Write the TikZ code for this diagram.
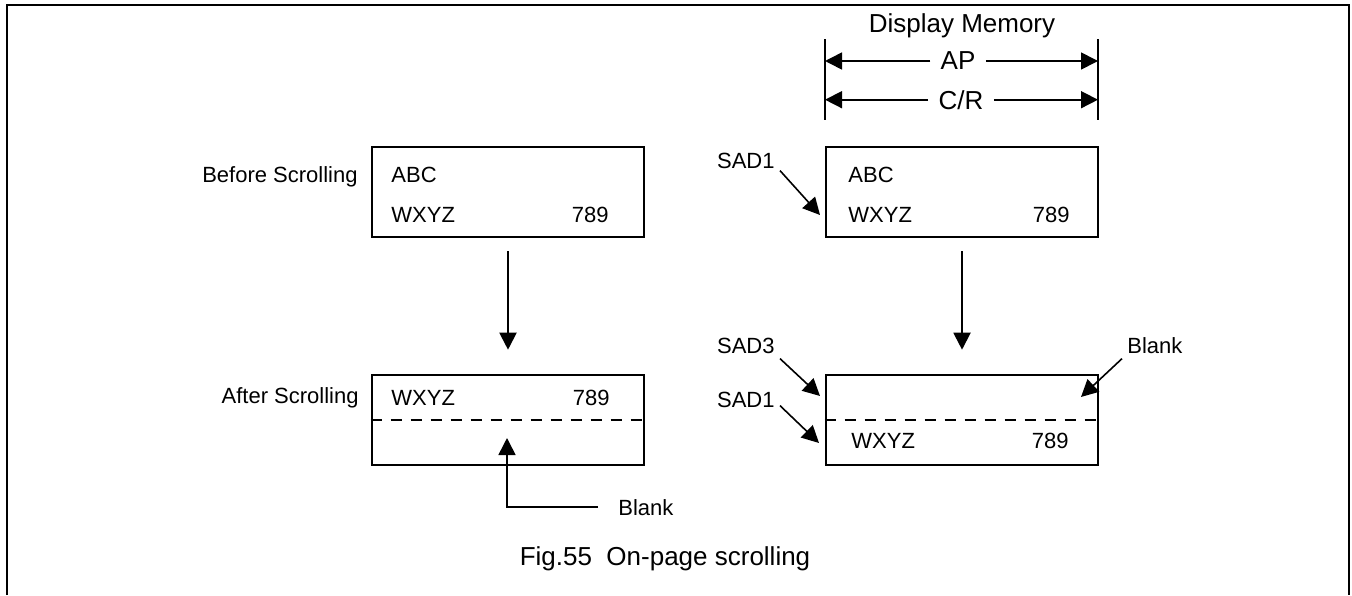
\documentclass[tikz,border=0pt]{standalone}
\usepackage{fontspec}
\setmainfont{Liberation Sans}
\usetikzlibrary{arrows.meta}

\begin{document}
\begin{tikzpicture}[x=0.5pt, y=-0.5pt,
                    every node/.style={inner sep=0pt, font=\fontsize{11}{13}\selectfont},
                    big/.style={font=\fontsize{13}{15}\selectfont},
                    membox/.style={draw, line width=1.3pt, minimum width=136pt, minimum height=45pt},
                    ptr/.style={-{Triangle[length=8.5pt,width=8.5pt]}, line width=0.8pt},
                    cut/.style={dashed, dash pattern=on 5.5pt off 4.5pt, line width=0.9pt}]
                    \useasboundingbox (0,0) rectangle (1352,595);
                    \draw[line width=1.4pt] (7,595) -- (7,5) -- (1349,5) -- (1349,595);
                    \node[anchor=base east] (bef) at (358,182) {Before Scrolling};
                    \node[membox] (lt) at (508,192) {};
                    \node[anchor=base west] (lta) at (391,182) {ABC};
                    \node[anchor=base west] (ltw) at (391,222) {WXYZ};
                    \node[anchor=base east] (ltn) at (609,222) {789};
                    \node[anchor=base east] (aft) at (359,403) {After Scrolling};
                    \node[membox] (lb) at (508,420) {};
                    \node[anchor=base west] (lbw) at (391,405) {WXYZ};
                    \node[anchor=base east] (lbn) at (610,405) {789};
                    \node[anchor=base west] (blkL) at (618,515) {Blank};
                    \coordinate (tipL) at (507,438);
                    \draw[cut] (lb.west) -- (lb.east);
                    \draw[ptr, line width=1pt, shorten <=6.5pt, shorten >=12pt] (lt) -- (lb);
                    \draw[ptr] ([xshift=-10pt]blkL.west) -| (tipL);
                    \node[big, anchor=base] (dm) at (962,32) {Display Memory};
                    \coordinate (dl1) at (825,39); \coordinate (dl2) at (825,120);
                    \coordinate (dr1) at (1098,39); \coordinate (dr2) at (1098,120);
                    \draw[line width=1pt] (dl1) -- (dl2); \draw[line width=1pt] (dr1) -- (dr2);
                    \node[big, inner xsep=5pt] (ap) at (958,61) {AP};
                    \node[big, inner xsep=5pt, anchor=base] (cr) at (961,109) {C/R};
                    \draw[ptr] (ap.west) -- (ap.west -| dl1); \draw[ptr] (ap.east) -- (ap.east -| dr1);
                    \draw[ptr] (cr.west) -- (cr.west -| dl1); \draw[ptr] (cr.east) -- (cr.east -| dr1);
                    \node[membox] (rt) at (962,192) {};
                    \node[anchor=base west] (rta) at (848,182) {ABC};
                    \node[anchor=base west] (rtw) at (848,222) {WXYZ};
                    \node[anchor=base east] (rtn) at (1070,222) {789};
                    \node[anchor=base east] (sadA) at (775,168) {SAD1};
                    \coordinate (tipA) at (820,215);
                    \node[membox] (rb) at (962,420) {};
                    \node[anchor=base west] (rbw) at (851,448) {WXYZ};
                    \node[anchor=base east] (rbn) at (1069,448) {789};
                    \node[anchor=base east] (sadC) at (775,353) {SAD3};
                    \coordinate (tipC) at (820,396);
                    \node[anchor=base east] (sadB) at (775,407) {SAD1};
                    \coordinate (tipB) at (819,443);
                    \node[anchor=base west] (blkR) at (1127,353) {Blank};
                    \coordinate (tipR) at (1081,397);
                    \draw[cut] (rb.west) -- (rb.east);
                    \draw[ptr, line width=1pt, shorten <=6.5pt, shorten >=12pt] (rt) -- (rb);
                    \draw[ptr] ([shift={(2.5pt,-1pt)}]sadA.south east) -- (tipA);
                    \draw[ptr] ([shift={(2.5pt,-2.5pt)}]sadC.south east) -- (tipC);
                    \draw[ptr] ([shift={(2.5pt,1pt)}]sadB.south east) -- (tipB);
                    \draw[ptr] ([shift={(-2.5pt,-2.5pt)}]blkR.south west) -- (tipR);
                    \node[big, anchor=base] (cap) at (665,565) {Fig.55~~On-page scrolling};
                \end{tikzpicture}
\end{document}
